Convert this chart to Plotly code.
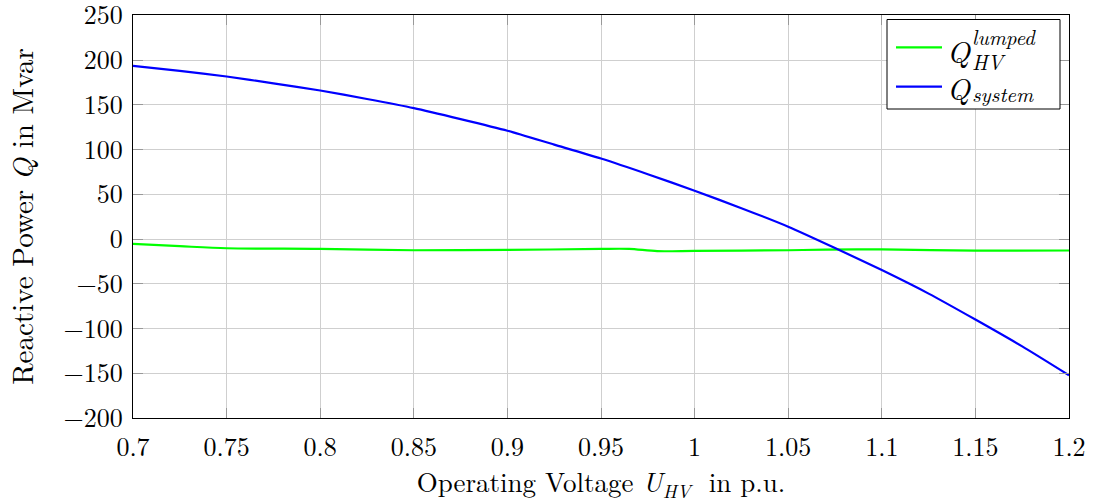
import plotly.graph_objects as go

# Operating voltage samples (p.u.)
u_system = [0.70, 0.725, 0.75, 0.775, 0.80, 0.825, 0.85, 0.875, 0.90, 0.925, 0.95,
            0.975, 1.00, 1.025, 1.05, 1.075, 1.10, 1.125, 1.15, 1.175, 1.20]
# Reactive power of the system (Mvar)
q_system = [193.5, 188.0, 181.7, 174.0, 166.0, 156.5, 146.3, 134.0, 121.0, 105.5, 90.0,
            72.5, 54.0, 34.5, 13.8, -10.0, -34.7, -61.0, -90.0, -120.0, -152.3]

u_lumped = [0.70, 0.725, 0.75, 0.80, 0.85, 0.90, 0.95, 0.965, 0.98, 1.00, 1.05,
            1.07, 1.10, 1.15, 1.20]
# Lumped reactive power at the HV side (Mvar)
q_lumped = [-5.5, -8.0, -10.3, -11.0, -12.5, -12.2, -11.0, -11.0, -13.5, -13.2, -12.5,
            -11.8, -11.6, -13.0, -12.8]

x_ticks = [0.7, 0.75, 0.8, 0.85, 0.9, 0.95, 1.0, 1.05, 1.1, 1.15, 1.2]
x_tick_text = ["0.7", "0.75", "0.8", "0.85", "0.9", "0.95", "1", "1.05", "1.1", "1.15", "1.2"]
y_ticks = [-200, -150, -100, -50, 0, 50, 100, 150, 200, 250]

GREEN = "#00ff00"
BLUE = "#0000ff"
SERIF = "Latin Modern Roman, CMU Serif, Liberation Serif, serif"
FS = 26

W, H = 1094, 503
L, R, T, B = 133, 25, 15, 85
PW, PH = W - L - R, H - T - B


def px(x):
    return (x - L) / PW


def py(y):
    return (H - B - y) / PH


fig = go.Figure()
fig.add_trace(go.Scatter(x=u_lumped, y=q_lumped, mode="lines",
                         line=dict(color=GREEN, width=2.2, shape="spline", smoothing=0.8),
                         showlegend=False))
fig.add_trace(go.Scatter(x=u_system, y=q_system, mode="lines",
                         line=dict(color=BLUE, width=2.2, shape="spline", smoothing=0.6),
                         showlegend=False))

axis_common = dict(
    showline=True, linecolor="black", linewidth=1, mirror="ticks",
    ticks="inside", ticklen=10, tickcolor="#999999", tickwidth=1,
    showgrid=True, gridcolor="#cfcfcf", gridwidth=1,
    zeroline=False, ticklabeloverflow="allow", automargin=False,
    tickfont=dict(family=SERIF, size=FS, color="black"),
)

fig.update_xaxes(range=[0.7, 1.2], tickvals=x_ticks, ticktext=x_tick_text,
                 ticklabelstandoff=6,
                 title=dict(text="Operating Voltage <i>U</i><sub><i>HV</i></sub>  in p.u.",
                            font=dict(family=SERIF, size=27, color="black"), standoff=6),
                 **axis_common)
fig.update_yaxes(range=[-200, 250.4], tickvals=y_ticks,
                 ticklabelstandoff=4,
                 title=dict(text="Reactive Power <i>Q</i> in Mvar",
                            font=dict(family=SERIF, size=29, color="black"), standoff=22),
                 **axis_common)

# Legend box with stacked super/subscripts
shapes = [
    dict(type="rect", xref="paper", yref="paper", x0=px(887), x1=px(1060), y0=py(109), y1=py(19.5),
         line=dict(color="black", width=1), fillcolor="white", layer="above"),
    dict(type="line", xref="paper", yref="paper", x0=px(896), x1=px(942), y0=py(47.3), y1=py(47.3),
         line=dict(color=GREEN, width=2.2), layer="above"),
    dict(type="line", xref="paper", yref="paper", x0=px(896), x1=px(942), y0=py(86.7), y1=py(86.7),
         line=dict(color=BLUE, width=2.2), layer="above"),
]


def note(text, x, y, size):
    return dict(text=text, xref="paper", yref="paper", x=px(x), y=py(y), xanchor="left",
                yanchor="middle", showarrow=False, font=dict(family=SERIF, size=size, color="black"))


annotations = [
    note("<i>Q</i>", 945, 50, 30),
    note("<i>lumped</i>", 970, 36, 21),
    note("<i>HV</i>", 970, 61, 21),
    note("<i>Q</i>", 945, 87, 30),
    note("<i>system</i>", 970, 93, 21),
]

fig.update_layout(
    width=W, height=H,
    margin=dict(l=L, r=R, t=T, b=B, autoexpand=False),
    plot_bgcolor="white", paper_bgcolor="white",
    font=dict(family=SERIF, color="black"),
    shapes=shapes, annotations=annotations,
)

fig.write_html("out.html")
